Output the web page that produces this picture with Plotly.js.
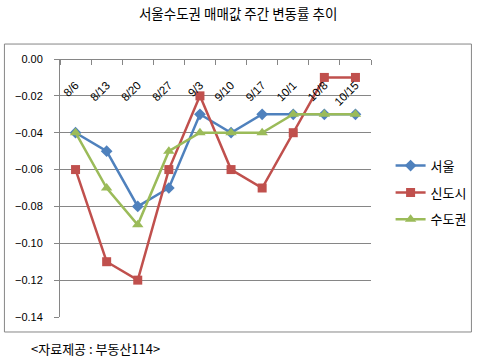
<!DOCTYPE html>
<html>
<head>
<meta charset="utf-8">
<script src="https://cdn.plot.ly/plotly-3.0.1.min.js"></script>
<style>html,body{margin:0;padding:0;background:#fff;}#chart{width:484px;height:362px;}</style>
</head>
<body>
<div id="chart"></div>
<script>
const categories = ["8/6","8/13","8/20","8/27","9/3","9/10","9/17","10/1","10/8","10/15"];
const seoul = [-0.04,-0.05,-0.08,-0.07,-0.03,-0.04,-0.03,-0.03,-0.03,-0.03];
const newTown = [-0.06,-0.11,-0.12,-0.06,-0.02,-0.06,-0.07,-0.04,-0.01,-0.01];
const capital = [-0.04,-0.07,-0.09,-0.05,-0.04,-0.04,-0.04,-0.03,-0.03,-0.03];
const seriesNames = ["서울","신도시","수도권"];
const yTicks = [0,-0.02,-0.04,-0.06,-0.08,-0.10,-0.12,-0.14];

const kr = '"Noto Sans CJK KR", "Noto Sans", sans-serif';
const ar = '"Liberation Sans", Arial, sans-serif';

const traces = [
  {x: categories, y: seoul, name: seriesNames[0], legendgroup: 'a', type: 'scatter', mode: 'lines+markers',
   line: {color: '#4F81BD', width: 2.5}, marker: {symbol: 'diamond', size: 9, color: '#4F81BD'}},
  {x: categories, y: newTown, name: seriesNames[1], legendgroup: 'b', type: 'scatter', mode: 'lines+markers',
   line: {color: '#C0504D', width: 2.5}, marker: {symbol: 'square', size: 9, color: '#C0504D'}},
  {x: categories, y: capital, name: seriesNames[2], legendgroup: 'c', type: 'scatter', mode: 'lines+markers',
   line: {color: '#9BBB59', width: 2.5}, marker: {symbol: 'triangle-up', size: 10, color: '#9BBB59'}}
];

const layout = {
  width: 484, height: 362,
  margin: {l: 60, r: 105, t: 59, b: 45},
  paper_bgcolor: '#fff', plot_bgcolor: '#fff',
  showlegend: true,
  title: {text: '서울수도권 매매값 주간 변동률 추이', font: {family: kr, size: 13.5, color: '#000'},
          x: 0.492, xref: 'container', xanchor: 'center', y: 1 - 14/362, yref: 'container', yanchor: 'middle'},
  xaxis: {type: 'category', anchor: 'free', position: 1, side: 'bottom',
          range: [-0.5, 9.5], showgrid: false, zeroline: false,
          showline: true, linecolor: '#868686', linewidth: 1,
          ticks: 'outside', ticklen: 5, tickcolor: '#868686', tickson: 'boundaries',
          tickangle: -45, ticklabelstandoff: 14,
          tickfont: {family: ar, size: 11.5, color: '#000'}},
  yaxis: {range: [-0.14, 0], tickvals: yTicks, tickformat: '.2f',
          showgrid: true, gridcolor: '#868686', gridwidth: 1, zeroline: false,
          showline: true, linecolor: '#868686', linewidth: 1,
          ticks: 'outside', ticklen: 5, tickcolor: '#868686', ticklabelstandoff: 9,
          tickfont: {family: ar, size: 11, color: '#000'}},
  legend: {x: 1.063, xanchor: 'left', y: 0.645, yanchor: 'top', traceorder: 'grouped', tracegroupgap: 7,
           itemwidth: 30, font: {family: kr, size: 13, color: '#000'}, bgcolor: 'rgba(0,0,0,0)'},
  shapes: [{type: 'rect', xref: 'paper', yref: 'paper', x0: -0.1787, x1: 1.3229, y0: -0.0581, y1: 1.058,
            line: {color: '#868686', width: 1}, fillcolor: 'rgba(0,0,0,0)', layer: 'below'}],
  annotations: [{text: '<자료제공 : 부동산114>', xref: 'paper', yref: 'paper', x: -0.1003, y: -0.124,
                 xanchor: 'left', yanchor: 'middle', showarrow: false, font: {family: kr, size: 13, color: '#000'}}]
};

Plotly.newPlot('chart', traces, layout, {displayModeBar: false, staticPlot: true});
</script>
</body>
</html>
